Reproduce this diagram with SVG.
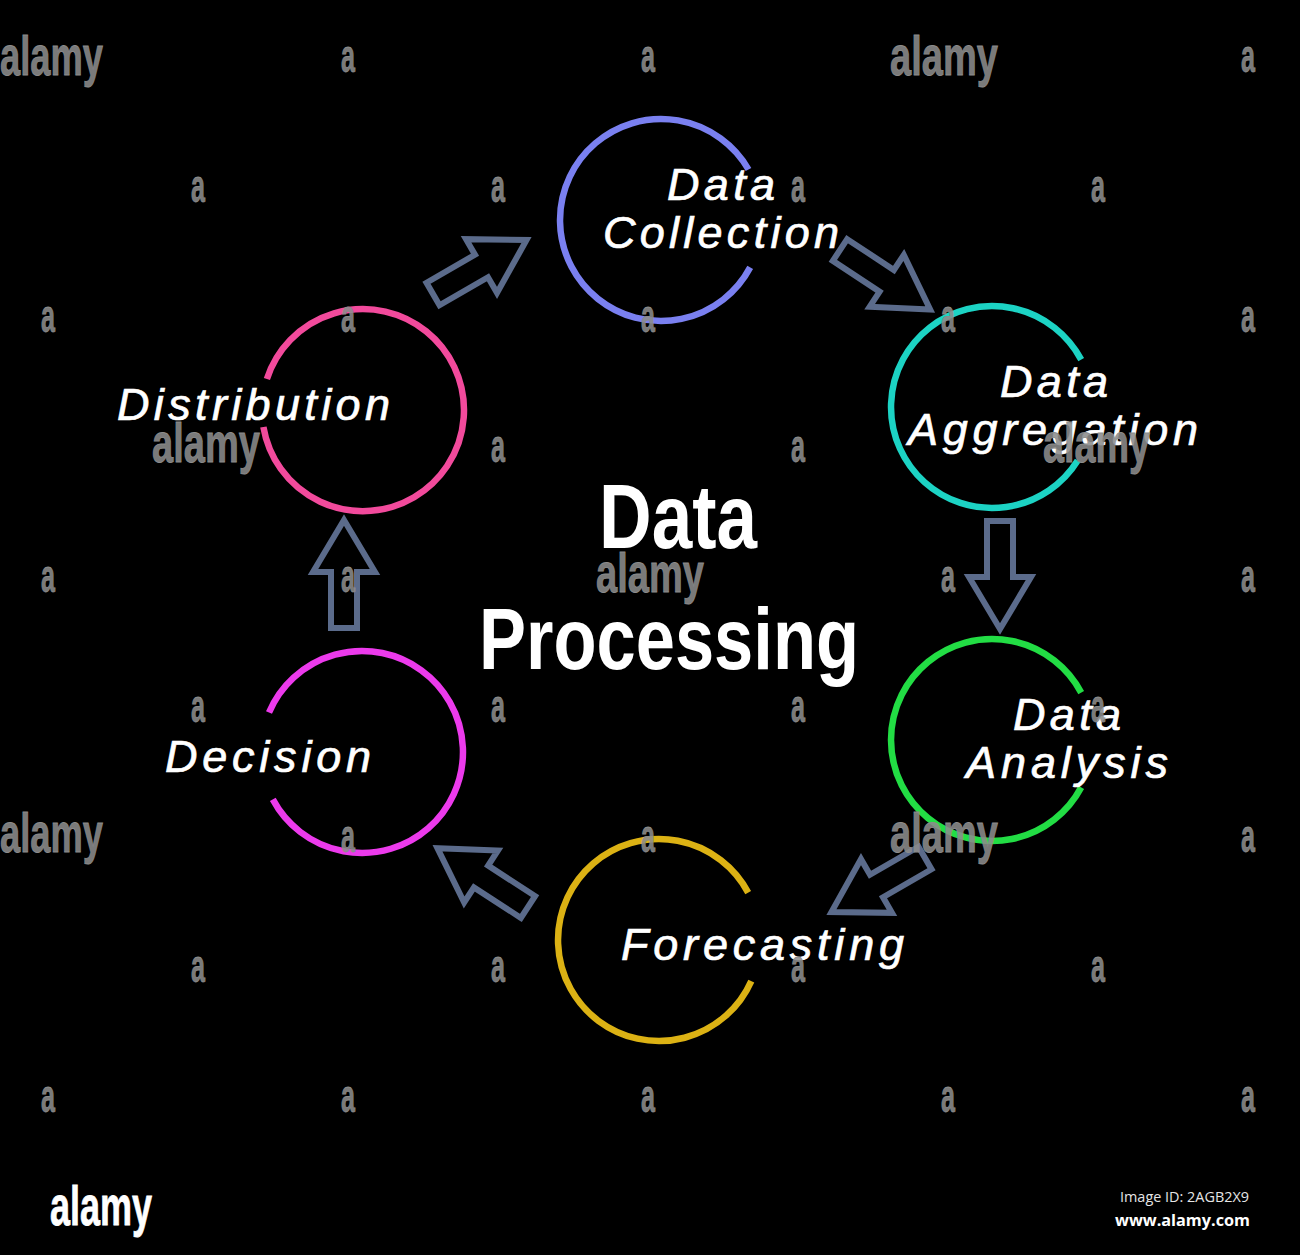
<svg xmlns="http://www.w3.org/2000/svg" width="1300" height="1255" viewBox="0 0 1300 1255">
<style>
.ring{fill:none;stroke-width:6.5}
.lbl{font-family:"Liberation Sans",Arial,sans-serif;font-style:italic;font-size:45px;fill:#fff;stroke:#fff;stroke-width:0.7}
.title{font-family:"Liberation Sans",Arial,sans-serif;font-weight:bold;fill:#fff}
.arr{fill:none;stroke:#5b6b8b;stroke-width:6;stroke-linejoin:miter}
.wm{font-family:"Liberation Sans",Arial,sans-serif;font-weight:bold;fill:#8c8c8c;fill-opacity:0.9;stroke:#8c8c8c;stroke-width:0.8}
.wa{font-size:46px}
.wl{font-size:56px}
</style>
<defs>
<path id="blk" d="M0,-13 L56,-13 L56,-31 L108,0 L56,31 L56,13 L0,13 Z"/>
</defs>
<rect x="0" y="0" width="1300" height="1255" fill="#000"/>

<g id="connectors">
<use href="#blk" class="arr" transform="translate(433,294) rotate(-30)"/>
<use href="#blk" class="arr" transform="translate(840,250) rotate(33.4)"/>
<use href="#blk" class="arr" transform="translate(1000,521) rotate(90)"/>
<use href="#blk" class="arr" transform="translate(925,858) rotate(150)"/>
<use href="#blk" class="arr" transform="translate(528,907) rotate(213)"/>
<use href="#blk" class="arr" transform="translate(344,628) rotate(-90)"/>
</g>

<g id="node-data-collection">
<path class="ring" stroke="#7a80f0" d="M750.2,267.4 A101,101 0 1 1 748.5,169.5"/>
<text class="lbl" x="667" y="200" textLength="108" lengthAdjust="spacing">Data</text>
<text class="lbl" x="603" y="248" textLength="236" lengthAdjust="spacing">Collection</text>
</g>

<g id="node-data-aggregation">
<path class="ring" stroke="#1cd3c4" d="M1077.7,460.5 A101,101 0 1 1 1081.2,359.6"/>
<text class="lbl" x="1000" y="397" textLength="108" lengthAdjust="spacing">Data</text>
<text class="lbl" x="908" y="445" textLength="290" lengthAdjust="spacing">Aggregation</text>
</g>

<g id="node-data-analysis">
<path class="ring" stroke="#22dd44" d="M1081.2,787.4 A101,101 0 1 1 1081.2,692.6"/>
<text class="lbl" x="1013" y="730" textLength="108" lengthAdjust="spacing">Data</text>
<text class="lbl" x="966" y="778" textLength="202" lengthAdjust="spacing">Analysis</text>
</g>

<g id="node-forecasting">
<path class="ring" stroke="#dcb214" d="M751.3,981.1 A101,101 0 1 1 748.2,892.6"/>
<text class="lbl" x="621" y="960" textLength="283" lengthAdjust="spacing">Forecasting</text>
</g>

<g id="node-decision">
<path class="ring" stroke="#ec3aec" d="M269,712.5 A101,101 0 1 1 272.8,799.4"/>
<text class="lbl" x="165" y="772" textLength="206" lengthAdjust="spacing">Decision</text>
</g>

<g id="node-distribution">
<path class="ring" stroke="#f24a9c" d="M266.9,379 A101,101 0 1 1 263.4,427"/>
<text class="lbl" x="117" y="420" textLength="273" lengthAdjust="spacing">Distribution</text>
</g>

<g id="title">
<text class="title" x="599" y="548" font-size="90" textLength="158" lengthAdjust="spacingAndGlyphs">Data</text>
<text class="title" x="479" y="669" font-size="88" textLength="380" lengthAdjust="spacingAndGlyphs">Processing</text>
</g>

<g id="watermark">
<g class="wm wl">
<text x="0" y="75" textLength="103" lengthAdjust="spacingAndGlyphs">alamy</text>
<text x="890" y="75" textLength="108" lengthAdjust="spacingAndGlyphs">alamy</text>
<text x="152" y="462" textLength="108" lengthAdjust="spacingAndGlyphs">alamy</text>
<text x="1043" y="462" textLength="107" lengthAdjust="spacingAndGlyphs">alamy</text>
<text x="596" y="592" textLength="108" lengthAdjust="spacingAndGlyphs">alamy</text>
<text x="0" y="852" textLength="103" lengthAdjust="spacingAndGlyphs">alamy</text>
<text x="890" y="852" textLength="108" lengthAdjust="spacingAndGlyphs">alamy</text>
</g>
<g class="wm wa">
<text x="341" y="72" textLength="14" lengthAdjust="spacingAndGlyphs">a</text>
<text x="641" y="72" textLength="14" lengthAdjust="spacingAndGlyphs">a</text>
<text x="1241" y="72" textLength="14" lengthAdjust="spacingAndGlyphs">a</text>
<text x="191" y="202" textLength="14" lengthAdjust="spacingAndGlyphs">a</text>
<text x="491" y="202" textLength="14" lengthAdjust="spacingAndGlyphs">a</text>
<text x="791" y="202" textLength="14" lengthAdjust="spacingAndGlyphs">a</text>
<text x="1091" y="202" textLength="14" lengthAdjust="spacingAndGlyphs">a</text>
<text x="41" y="332" textLength="14" lengthAdjust="spacingAndGlyphs">a</text>
<text x="341" y="332" textLength="14" lengthAdjust="spacingAndGlyphs">a</text>
<text x="641" y="332" textLength="14" lengthAdjust="spacingAndGlyphs">a</text>
<text x="941" y="332" textLength="14" lengthAdjust="spacingAndGlyphs">a</text>
<text x="1241" y="332" textLength="14" lengthAdjust="spacingAndGlyphs">a</text>
<text x="491" y="462" textLength="14" lengthAdjust="spacingAndGlyphs">a</text>
<text x="791" y="462" textLength="14" lengthAdjust="spacingAndGlyphs">a</text>
<text x="41" y="592" textLength="14" lengthAdjust="spacingAndGlyphs">a</text>
<text x="341" y="592" textLength="14" lengthAdjust="spacingAndGlyphs">a</text>
<text x="941" y="592" textLength="14" lengthAdjust="spacingAndGlyphs">a</text>
<text x="1241" y="592" textLength="14" lengthAdjust="spacingAndGlyphs">a</text>
<text x="191" y="722" textLength="14" lengthAdjust="spacingAndGlyphs">a</text>
<text x="491" y="722" textLength="14" lengthAdjust="spacingAndGlyphs">a</text>
<text x="791" y="722" textLength="14" lengthAdjust="spacingAndGlyphs">a</text>
<text x="1091" y="722" textLength="14" lengthAdjust="spacingAndGlyphs">a</text>
<text x="341" y="852" textLength="14" lengthAdjust="spacingAndGlyphs">a</text>
<text x="641" y="852" textLength="14" lengthAdjust="spacingAndGlyphs">a</text>
<text x="1241" y="852" textLength="14" lengthAdjust="spacingAndGlyphs">a</text>
<text x="191" y="982" textLength="14" lengthAdjust="spacingAndGlyphs">a</text>
<text x="491" y="982" textLength="14" lengthAdjust="spacingAndGlyphs">a</text>
<text x="791" y="982" textLength="14" lengthAdjust="spacingAndGlyphs">a</text>
<text x="1091" y="982" textLength="14" lengthAdjust="spacingAndGlyphs">a</text>
<text x="41" y="1112" textLength="14" lengthAdjust="spacingAndGlyphs">a</text>
<text x="341" y="1112" textLength="14" lengthAdjust="spacingAndGlyphs">a</text>
<text x="641" y="1112" textLength="14" lengthAdjust="spacingAndGlyphs">a</text>
<text x="941" y="1112" textLength="14" lengthAdjust="spacingAndGlyphs">a</text>
<text x="1241" y="1112" textLength="14" lengthAdjust="spacingAndGlyphs">a</text>
</g>
<text x="50" y="1225" font-family="'Liberation Sans',Arial,sans-serif" font-weight="bold" font-size="56" fill="#fff" stroke="#fff" stroke-width="0.8" textLength="102" lengthAdjust="spacingAndGlyphs">alamy</text>
<text x="1120" y="1202" font-family="'Open Sans','Noto Sans',sans-serif" font-size="14" fill="#e6e6e6" textLength="129" lengthAdjust="spacingAndGlyphs">Image ID: 2AGB2X9</text>
<text x="1115" y="1226" font-family="'Open Sans','Noto Sans',sans-serif" font-weight="bold" font-size="16" fill="#fff" textLength="135" lengthAdjust="spacingAndGlyphs">www.alamy.com</text>
</g>
</svg>
